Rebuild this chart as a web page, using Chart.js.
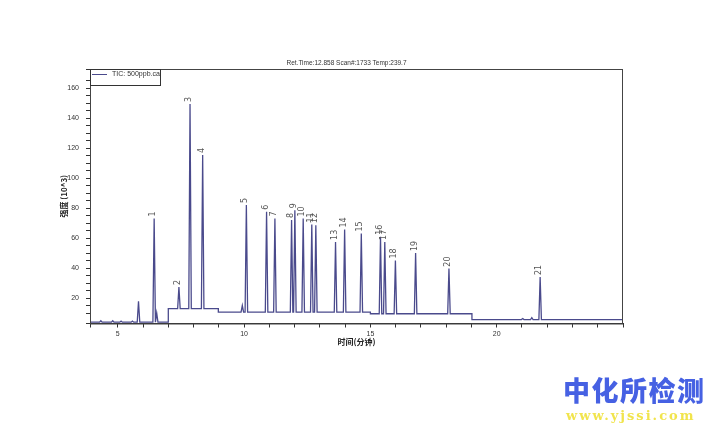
<!DOCTYPE html>
<html>
<head>
<meta charset="utf-8">
<script src="https://cdn.jsdelivr.net/npm/chart.js@4.4.1/dist/chart.umd.min.js"></script>
<style>
body { margin: 0; background: #fff; }
#wrap { position: relative; width: 712px; height: 430px; }
.wm1 { position: absolute; left: 563px; top: 370px; font: 900 27px "Noto Sans CJK SC"; color: #4661e3; letter-spacing: 1.5px; white-space: nowrap; }
.wm2 { position: absolute; left: 566px; top: 408px; font: bold 13px "DejaVu Serif"; color: #f1e44c; letter-spacing: 2px; white-space: nowrap; }
</style>
</head>
<body>
<div id="wrap">
<canvas id="myChart" width="712" height="430"></canvas>
<div class="wm1">中化所检测</div>
<div class="wm2">www.yjssi.com</div>
</div>
<script>
// labelled peaks
const peakLabels = ['1', '2', '3', '4', '5', '6', '7', '8', '9', '10', '11', '12', '13', '14', '15', '16', '17', '18', '19', '20', '21'];
const peakTimes = [6.44, 7.42, 7.86, 8.36, 10.09, 10.89, 11.22, 11.88, 12.01, 12.34, 12.68, 12.84, 13.62, 13.98, 14.64, 15.40, 15.57, 15.99, 16.79, 18.11, 21.72];
const peakHeights = [73, 27.4, 149.5, 115.4, 82, 77.5, 73, 72, 78.6, 73, 69, 68.6, 57.4, 65.7, 63, 60.8, 57.4, 45, 50, 39.6, 34];

// unlabelled small peaks
const smallTimes = [4.33, 4.80, 5.13, 5.58, 5.82, 6.54, 9.93, 21.03, 21.39];
const smallHeights = [4.8, 4.8, 4.6, 4.6, 17.8, 10, 15, 6.3, 6.9];

// baseline steps
const stepTimes = [3.9, 7.0, 8.98, 15.0, 19.02];
const stepLevels = [3.9, 12.9, 10.6, 9.5, 5.6];

const xTickLabels = [5, 10, 15, 20];
const yTickLabels = [20, 40, 60, 80, 100, 120, 140, 160];

const headerText = 'Ret.Time:12.858 Scan#:1733 Temp:239.7';
const seriesName = 'TIC: 500ppb.ca';

const halfWidth = 0.05;

function baseAt(t) {
    let lv = stepLevels[0];
    for (let i = 0; i < stepTimes.length; i++) {
        if (t >= stepTimes[i]) lv = stepLevels[i];
    }
    return lv;
}

const events = [];
stepTimes.forEach((t, i) => events.push({ t, step: i }));
peakTimes.forEach((t, i) => events.push({ t, h: peakHeights[i] }));
smallTimes.forEach((t, i) => events.push({ t, h: smallHeights[i] }));
events.sort((a, b) => a.t - b.t);

const trace = [];
events.forEach(e => {
    if (e.step !== undefined) {
        if (e.step > 0) trace.push({ x: e.t, y: stepLevels[e.step - 1] });
        trace.push({ x: e.t, y: stepLevels[e.step] });
    } else {
        const b = baseAt(e.t);
        trace.push({ x: e.t - halfWidth, y: b }, { x: e.t, y: e.h }, { x: e.t + halfWidth, y: b });
    }
});
trace.push({ x: 25, y: stepLevels[stepLevels.length - 1] });

const decor = {
    id: 'decor',
    afterDatasetsDraw(chart) {
        const { ctx, chartArea: a, scales: { x, y } } = chart;
        ctx.save();
        ctx.strokeStyle = '#444';
        ctx.lineWidth = 1;
        ctx.strokeRect(a.left + 0.5, a.top + 0.5, a.right - a.left - 1, a.bottom - a.top);

        // peak numbers
        ctx.fillStyle = '#555';
        ctx.font = '8px "DejaVu Sans"';
        peakLabels.forEach((lab, i) => {
            ctx.save();
            ctx.translate(x.getPixelForValue(peakTimes[i]) - 1, y.getPixelForValue(peakHeights[i]) - 2);
            ctx.rotate(-Math.PI / 2);
            ctx.textAlign = 'left';
            ctx.textBaseline = 'middle';
            ctx.fillText(lab, 0, 0);
            ctx.restore();
        });

        // legend box
        ctx.strokeStyle = '#333';
        ctx.strokeRect(a.left + 0.5, a.top + 0.5, 70, 16);
        ctx.strokeStyle = '#4a4a8c';
        ctx.beginPath();
        ctx.moveTo(a.left + 2, a.top + 5.5);
        ctx.lineTo(a.left + 17, a.top + 5.5);
        ctx.stroke();
        ctx.fillStyle = '#333';
        ctx.font = '7px "Liberation Sans"';
        ctx.textAlign = 'left';
        ctx.textBaseline = 'middle';
        ctx.fillText(seriesName, a.left + 22, a.top + 5);

        // header
        ctx.font = '6.5px "Liberation Sans"';
        ctx.textAlign = 'center';
        ctx.fillText(headerText, (a.left + a.right) / 2 - 10, a.top - 6);
        ctx.restore();
    }
};

const ctx = document.getElementById('myChart').getContext('2d');

new Chart(ctx, {
    type: 'line',
    data: {
        datasets: [{
            label: seriesName,
            data: trace,
            borderColor: '#4a4a8c',
            borderWidth: 1.3,
            pointRadius: 0,
            tension: 0,
            fill: false,
        }]
    },
    plugins: [decor],
    options: {
        responsive: false,
        animation: false,
        parsing: false,
        layout: { padding: { left: 0, top: 69, right: 89, bottom: 76.5 } },
        plugins: {
            legend: { display: false },
            tooltip: { enabled: false }
        },
        scales: {
            x: {
                type: 'linear',
                min: 3.9,
                max: 25,
                afterFit: s => { s.height = 30; },
                border: { color: '#333' },
                grid: { drawOnChartArea: false, tickLength: 4, color: '#333' },
                ticks: {
                    stepSize: 1,
                    autoSkip: false,
                    maxRotation: 0,
                    padding: 2,
                    color: '#333',
                    font: { family: 'Liberation Sans', size: 7 },
                    callback: v => xTickLabels.includes(v) ? String(v) : ''
                },
                title: {
                    display: true,
                    text: '时间(分钟)',
                    color: '#222',
                    font: { family: 'Noto Sans CJK SC', size: 8, weight: 'bold' },
                    padding: { top: 0, bottom: 6.7 }
                }
            },
            y: {
                min: 3,
                max: 172.8,
                afterFit: s => { s.width = 90; },
                border: { color: '#333' },
                grid: { drawOnChartArea: false, tickLength: 4, color: '#333' },
                ticks: {
                    stepSize: 5,
                    autoSkip: false,
                    padding: 7,
                    color: '#333',
                    font: { family: 'Liberation Sans', size: 7 },
                    callback: v => yTickLabels.includes(v) ? String(v) : ''
                },
                title: {
                    display: true,
                    text: '强度 (10^3)',
                    color: '#222',
                    font: { family: 'Noto Sans CJK SC', size: 8, weight: 'bold' },
                    padding: { top: 59, bottom: 0 }
                }
            }
        }
    }
});
</script>
</body>
</html>
